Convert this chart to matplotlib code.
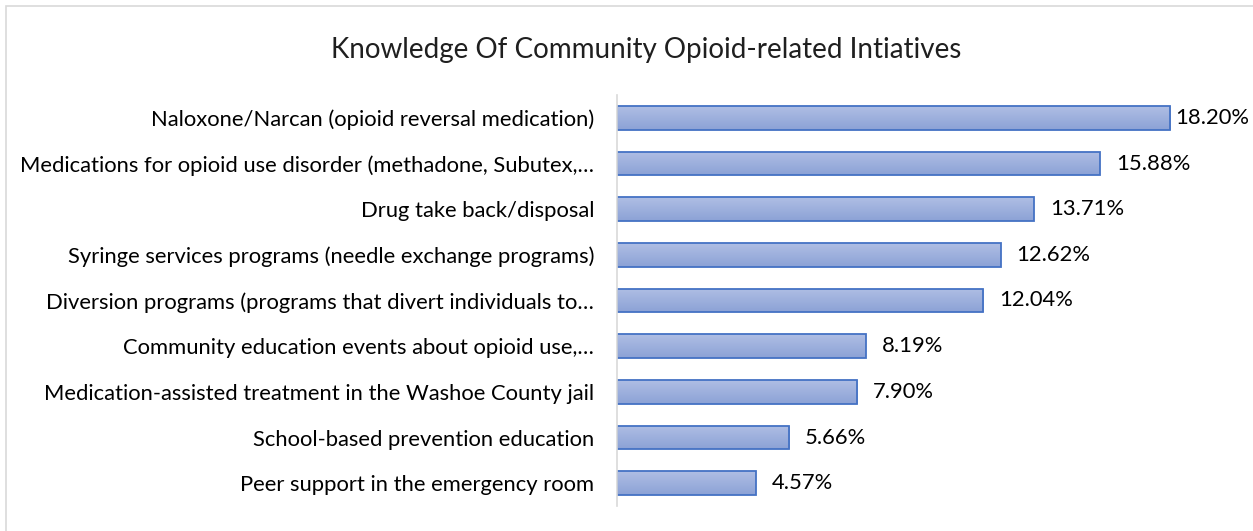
import matplotlib
matplotlib.use("Agg")
import matplotlib.pyplot as plt
import numpy as np
from matplotlib.patches import Rectangle
from matplotlib.colors import LinearSegmentedColormap

categories = [
    "Naloxone/Narcan (opioid reversal medication)",
    "Medications for opioid use disorder (methadone, Subutex,\u2026",
    "Drug take back/disposal",
    "Syringe services programs (needle exchange programs)",
    "Diversion programs (programs that divert individuals to\u2026",
    "Community education events about opioid use,\u2026",
    "Medication-assisted treatment in the Washoe County jail",
    "School-based prevention education",
    "Peer support in the emergency room",
]
values = [18.20, 15.88, 13.71, 12.62, 12.04, 8.19, 7.90, 5.66, 4.57]
value_labels = ["18.20%", "15.88%", "13.71%", "12.62%", "12.04%", "8.19%", "7.90%", "5.66%", "4.57%"]
title = "Knowledge Of Community Opioid-related Intiatives"

plt.rcParams['font.family'] = ['Lato', 'DejaVu Sans']

W, H = 1253, 531
fig = plt.figure(figsize=(W / 100, H / 100), dpi=100)

# outer chart border (only top/left visible in reference)
fig.add_artist(Rectangle((6 / W, -0.05), 1.2, 1 - 6 / H + 0.05, transform=fig.transFigure,
                         fill=False, edgecolor="#D9D9D9", linewidth=1.2))

ax = fig.add_axes([617 / W, 1 - 506 / H, 1 - 617 / W, (506 - 95) / H])
y = list(range(len(categories)))
bars = ax.barh(y, values, height=0.52, color="none", edgecolor="#4472C4", linewidth=1.3, zorder=3)
ax.set_ylim(len(categories) - 0.5, -0.5)
ax.set_xlim(0, (W - 617) / 30.4)

# vertical gradient fill inside each bar
cmap = LinearSegmentedColormap.from_list("g", ["#AFBEE4", "#8CA2D6"])
grad = np.linspace(0, 1, 64).reshape(-1, 1)
for b in bars:
    x0, y0, w, h = b.get_x(), b.get_y(), b.get_width(), b.get_height()
    im = ax.imshow(grad, cmap=cmap, aspect="auto", extent=(x0, x0 + w, y0 + h, y0),
                   origin="upper", zorder=2, interpolation="bilinear")
    clip = Rectangle((x0, y0), w, h, transform=ax.transData)
    im.set_clip_path(clip)
ax.set_xlim(0, (W - 617) / 30.4)
ax.set_ylim(len(categories) - 0.5, -0.5)

ax.set_yticks(y)
ax.set_yticklabels(categories, fontsize=15.8, color="#000000")
ax.tick_params(axis="y", length=0, pad=16.5)
ax.set_xticks([])
for s in ["top", "right", "bottom"]:
    ax.spines[s].set_visible(False)
ax.spines["left"].set_color("#D9D9D9")
ax.spines["left"].set_linewidth(1.2)
ax.spines["left"].set_zorder(4)

# data labels (first one tucked in closer, as the reference does at the edge)
for i, (b, lab) in enumerate(zip(bars, value_labels)):
    pad = 3.6 if i == 0 else 11.5
    ax.annotate(lab, (b.get_width(), b.get_y() + b.get_height() / 2),
                xytext=(pad, 0), textcoords="offset points",
                ha="left", va="center", fontsize=15.8, color="#000000",
                annotation_clip=False)

fig.text(646 / W, 1 - 50 / H, title, ha="center", va="center", fontsize=20, color="#1F1F1F")

fig.savefig("out.png", dpi=100)
